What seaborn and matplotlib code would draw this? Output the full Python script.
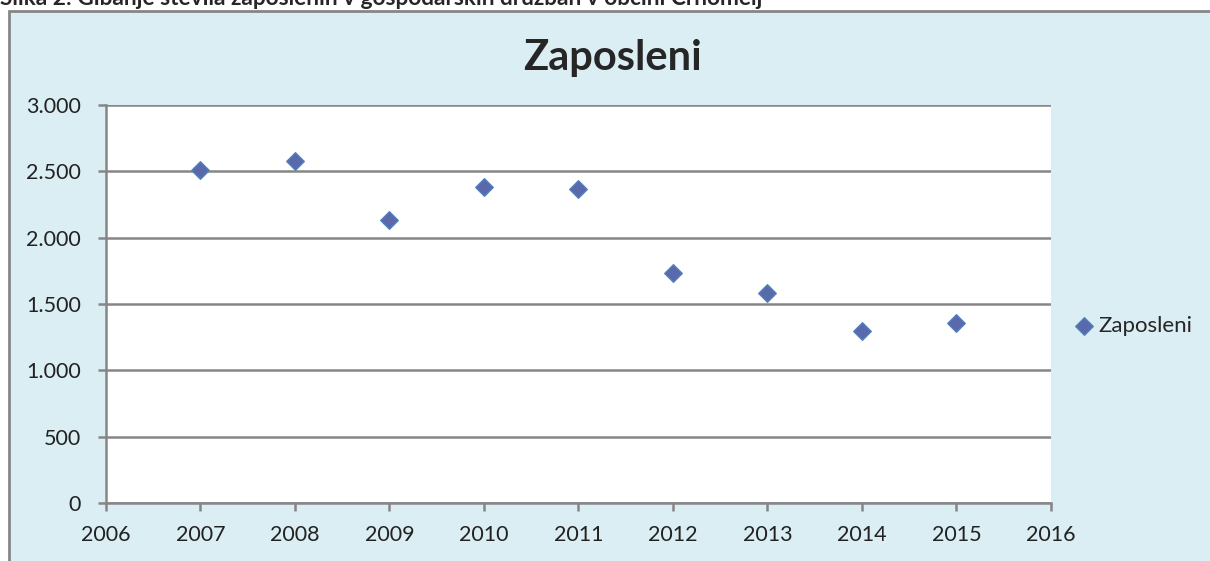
import numpy as np
import pandas as pd
from matplotlib import pyplot as plt
from matplotlib.patches import Rectangle
from matplotlib.ticker import FuncFormatter, MultipleLocator
import seaborn as sns

# data
leta = [2007, 2008, 2009, 2010, 2011, 2012, 2013, 2014, 2015]
zaposleni = [2510, 2575, 2135, 2380, 2365, 1735, 1580, 1300, 1360]

naslov = 'Zaposleni'
napis = 'Slika 2: Gibanje števila zaposlenih v gospodarskih družbah v občini Črnomelj'

df = pd.DataFrame({'leto': leta, 'zaposleni': zaposleni})

sns.set_style('white')
plt.rcParams['font.family'] = ['Lato', 'DejaVu Sans']

W, H = 1210, 561
fig = plt.figure(figsize=(W / 100, H / 100), dpi=100)

# light blue chart area with grey frame (runs off right/bottom edge)
fig.patches.append(Rectangle((9 / W, -0.05), 1.2, 1 - 11 / H + 0.05, transform=fig.transFigure,
                             facecolor='#DBEEF3', edgecolor='#868686', lw=2, zorder=-10))

fig.text(0.0, 1 - 5 / H, napis, fontsize=16.3, fontweight='bold', ha='left', va='baseline')
fig.text(612 / W, 1 - 70 / H, naslov, fontsize=30, fontweight='bold', ha='center', va='baseline')

ax = fig.add_axes([106 / W, 58 / H, 945 / W, 398 / H])
ax.set_facecolor('white')

sns.scatterplot(data=df, x='leto', y='zaposleni', marker='D', s=80, color='#5A69AC',
                edgecolor='#4F81BD', linewidth=1, label='Zaposleni', ax=ax, zorder=3)

ax.set_xlim(2006, 2016)
ax.set_ylim(0, 3000)
ax.xaxis.set_major_locator(MultipleLocator(1))
ax.yaxis.set_major_locator(MultipleLocator(500))
ax.yaxis.set_major_formatter(FuncFormatter(lambda v, p: f'{int(v):,}'.replace(',', '.')))
ax.set_xlabel('')
ax.set_ylabel('')

ax.grid(axis='y', color='#868686', lw=1.8)
ax.set_axisbelow(True)
for s in ['top', 'right']:
    ax.spines[s].set_visible(False)
for s in ['left', 'bottom']:
    ax.spines[s].set_color('#868686')
    ax.spines[s].set_linewidth(1.8)
ax.tick_params(axis='both', which='major', direction='out', length=6, width=1.8,
               color='#868686', labelsize=15.5, labelcolor='#222222')
ax.tick_params(axis='x', bottom=True, pad=10)
ax.tick_params(axis='y', left=True, pad=12)

ax.legend(loc='center left', bbox_to_anchor=(1.01, 0.445), frameon=False, fontsize=16,
          handletextpad=0.1, borderpad=0, handlelength=1.1)

fig.savefig('out.png', dpi=100)
